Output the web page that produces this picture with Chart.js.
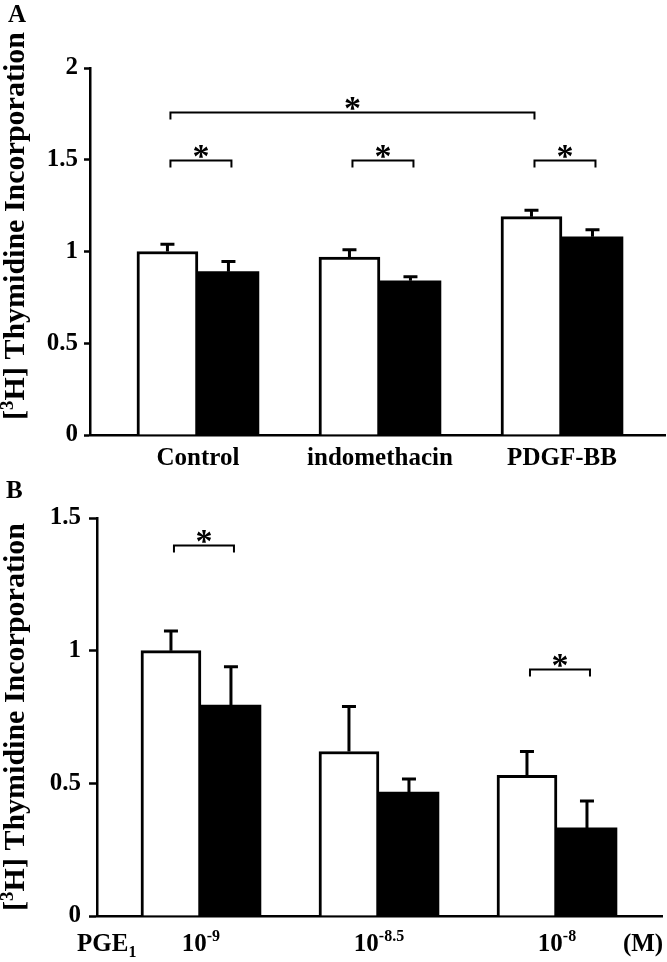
<!DOCTYPE html>
<html><head><meta charset="utf-8">
<script src="https://cdn.jsdelivr.net/npm/chart.js@4.4.1/dist/chart.umd.min.js"></script>
<style>
html,body{margin:0;padding:0;background:#fff;}
#wrap{position:relative;width:667px;height:962px;background:#fff;}
canvas{position:absolute;left:0;}
#cA{top:0;} #cB{top:480px;}
</style></head><body>
<div id="wrap"><canvas id="cA" width="667" height="480"></canvas><canvas id="cB" width="667" height="482"></canvas></div>
<script>
// ---------- Panel A data ----------
const categoriesA = ['Control', 'indomethacin', 'PDGF-BB'];
const openA = [1.00, 0.97, 1.19];
const openErrA = [0.04, 0.04, 0.035];
const filledA = [0.89, 0.84, 1.08];
const filledErrA = [0.055, 0.022, 0.038];
const yTicksA = [0, 0.5, 1, 1.5, 2];
// significance brackets: [dataset, index] -> [dataset, index] at value y
const bracketsA = [
  {a: [0, 0], b: [1, 0], y: 1.5},
  {a: [0, 1], b: [1, 1], y: 1.5},
  {a: [0, 2], b: [1, 2], y: 1.5},
  {a: [0, 0], b: [0, 2], y: 1.76}
];

// ---------- Panel B data ----------
const doseBase = '10';
const doseExponents = ['-9', '-8.5', '-8'];
const openB = [1.00, 0.62, 0.53];
const openErrB = [0.074, 0.17, 0.09];
const filledB = [0.795, 0.467, 0.332];
const filledErrB = [0.144, 0.049, 0.101];
const yTicksB = [0, 0.5, 1, 1.5];
const bracketsB = [
  {a: [0, 0], b: [1, 0], y: 1.4},
  {a: [0, 2], b: [1, 2], y: 0.93}
];

const yTitleMain = 'H] Thymidine Incorporation';
const FONT = '"Liberation Serif", "Times New Roman", serif';

const panelPlugin = {
  id: 'panel',
  afterDraw(chart, args, o) {
    const ctx = chart.ctx;
    const ys = chart.scales.y, xs = chart.scales.x;
    ctx.save();
    ctx.strokeStyle = '#000';
    ctx.fillStyle = '#000';
    // error bars
    o.errors.forEach((errs, d) => {
      const meta = chart.getDatasetMeta(d);
      const vals = chart.data.datasets[d].data;
      meta.data.forEach((el, i) => {
        const top = ys.getPixelForValue(vals[i].y + errs[i]);
        ctx.lineWidth = 3;
        ctx.beginPath();
        ctx.moveTo(el.x, el.y);
        ctx.lineTo(el.x, top);
        ctx.moveTo(el.x - 7, top);
        ctx.lineTo(el.x + 7, top);
        ctx.stroke();
      });
    });
    // brackets
    ctx.lineWidth = 2;
    ctx.font = 'bold 34px ' + FONT;
    ctx.textAlign = 'center';
    ctx.textBaseline = 'alphabetic';
    const m = ctx.measureText('*');
    o.brackets.forEach(br => {
      const xa = chart.getDatasetMeta(br.a[0]).data[br.a[1]].x + 3;
      const xb = chart.getDatasetMeta(br.b[0]).data[br.b[1]].x + 3;
      const y = Math.round(ys.getPixelForValue(br.y)) + 0.5;
      ctx.beginPath();
      ctx.moveTo(xa, y + 7); ctx.lineTo(xa, y); ctx.lineTo(xb, y); ctx.lineTo(xb, y + 7);
      ctx.stroke();
      const cy = y - 9;
      ctx.fillText('*', (xa + xb) / 2, cy + (m.actualBoundingBoxAscent - m.actualBoundingBoxDescent) / 2);
    });
    // y-axis title with superscript
    ctx.save();
    ctx.translate(o.title.x, o.title.y);
    ctx.rotate(-Math.PI / 2);
    ctx.textAlign = 'left';
    const big = 'bold 30px ' + FONT, small = 'bold 19px ' + FONT;
    ctx.font = big; const w1 = ctx.measureText('[').width; const w3 = ctx.measureText(yTitleMain).width;
    ctx.font = small; const w2 = ctx.measureText('3').width;
    let x0 = -(w1 + w2 + w3) / 2;
    ctx.font = big; ctx.fillText('[', x0, 0);
    ctx.font = small; ctx.fillText('3', x0 + w1, -11);
    ctx.font = big; ctx.fillText(yTitleMain, x0 + w1 + w2, 0);
    ctx.restore();
    // panel letter
    ctx.textAlign = 'left';
    ctx.font = 'bold 25px ' + FONT;
    ctx.fillText(o.letter.text, o.letter.x, o.letter.y);
    // dose labels (panel B)
    if (o.dose) {
      const base = chart.chartArea.bottom + 35;
      xs.ticks.forEach((t, i) => {
        const cx = xs.getPixelForValue(t.value);
        ctx.font = 'bold 25px ' + FONT; const wb = ctx.measureText(doseBase).width;
        ctx.font = 'bold 16px ' + FONT; const we = ctx.measureText(doseExponents[i]).width;
        const sx = cx - (wb + we) / 2;
        ctx.font = 'bold 25px ' + FONT; ctx.fillText(doseBase, sx, base);
        ctx.font = 'bold 16px ' + FONT; ctx.fillText(doseExponents[i], sx + wb, base - 10);
      });
      ctx.font = 'bold 25px ' + FONT;
      ctx.fillText('PGE', 77, base);
      const wp = ctx.measureText('PGE').width;
      ctx.font = 'bold 16px ' + FONT;
      ctx.fillText('1', 77 + wp, base + 6);
      ctx.font = 'bold 25px ' + FONT;
      ctx.textAlign = 'center';
      ctx.fillText('(M)', 643, base);
    }
    ctx.restore();
  }
};

function buildChart(id, o) {
  return new Chart(document.getElementById(id), {
    type: 'bar',
    data: {
      datasets: [
        {data: o.open.map((v, i) => ({x: i + 1, y: v})), backgroundColor: '#fff', borderColor: '#000',
         borderWidth: 3, borderSkipped: 'bottom', barThickness: o.barW},
        {data: o.filled.map((v, i) => ({x: i + 1, y: v})), backgroundColor: '#000', borderColor: '#000',
         borderWidth: 0, barThickness: o.barW}
      ]
    },
    options: {
      responsive: false, animation: false, devicePixelRatio: 1,
      layout: {padding: {top: o.padTop, right: o.padRight, left: 0, bottom: 0}},
      plugins: {
        legend: {display: false}, tooltip: {enabled: false},
        panel: {errors: [o.openErr, o.filledErr], brackets: o.brackets, title: o.title, letter: o.letter, dose: o.dose}
      },
      scales: {
        x: {
          type: 'linear', min: o.xMin, max: o.xMax, offset: false, z: 1,
          grid: {display: false, drawTicks: false},
          border: {display: true, color: '#000', width: 2.5},
          afterBuildTicks: s => { s.ticks = o.count.map((c, i) => ({value: i + 1})); },
          afterFit: s => { s.height = o.xH; },
          ticks: {display: !o.dose, padding: 9, autoSkip: false, maxRotation: 0, minRotation: 0, color: '#000',
                  font: {family: FONT, size: 25, weight: 'bold'},
                  callback: v => (o.cats ? o.cats[Math.round(v) - 1] : '')}
        },
        y: {
          min: 0, max: o.yTicks[o.yTicks.length - 1],
          afterBuildTicks: s => { s.ticks = o.yTicks.map(v => ({value: v})); },
          afterFit: s => { s.width = o.yW; },
          grid: {drawOnChartArea: false, drawTicks: true, tickLength: o.tickLen, tickColor: '#000', tickWidth: 2.5, color: '#000'},
          border: {display: true, color: '#000', width: 2.5},
          ticks: {padding: o.tickPad, color: '#000', font: {family: FONT, size: 25, weight: 'bold'}, callback: v => String(v)}
        }
      }
    },
    plugins: [panelPlugin]
  });
}

buildChart('cA', {
  open: openA, openErr: openErrA, filled: filledA, filledErr: filledErrA, cats: categoriesA, count: categoriesA,
  yTicks: yTicksA, brackets: bracketsA, barW: 61, xMin: 0.407, xMax: 3.566,
  padTop: 68, padRight: 2, xH: 45, yW: 90, tickLen: 6, tickPad: 6,
  title: {x: 24, y: 226}, letter: {text: 'A', x: 8, y: 22}, dose: false
});
buildChart('cB', {
  open: openB, openErr: openErrB, filled: filledB, filledErr: filledErrB, cats: null, count: doseExponents,
  yTicks: yTicksB, brackets: bracketsB, barW: 60, xMin: 0.416, xMax: 3.59,
  padTop: 38, padRight: 5, xH: 46, yW: 97, tickLen: 8, tickPad: 8,
  title: {x: 24, y: 237}, letter: {text: 'B', x: 6, y: 18}, dose: true
});
</script>
</body></html>
